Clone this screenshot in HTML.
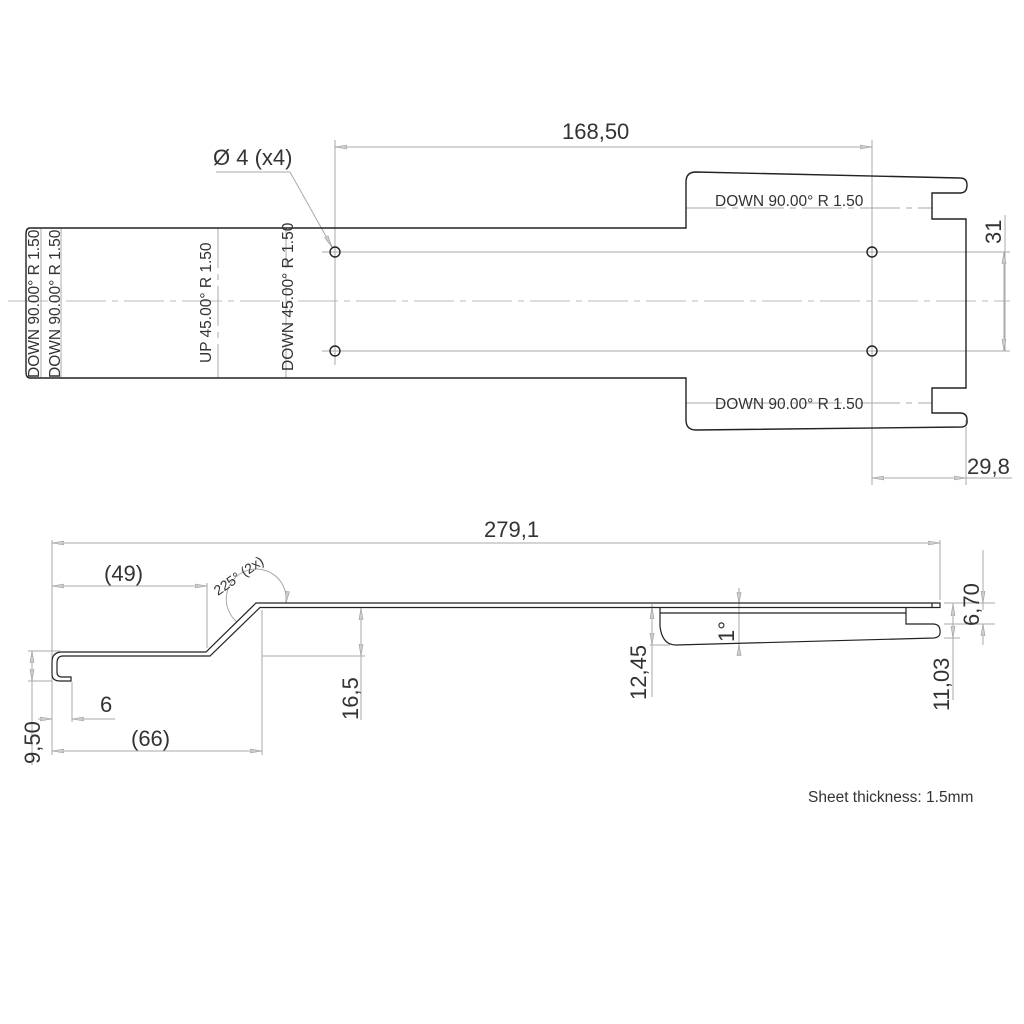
<!DOCTYPE html>
<html><head><style>
html,body{margin:0;padding:0;background:#fff;}
svg{display:block;}
text{font-family:"Liberation Sans",sans-serif;fill:#333;}
</style></head><body>
<svg width="1024" height="1024" viewBox="0 0 1024 1024" xmlns="http://www.w3.org/2000/svg">
<defs>
<marker id="a" markerWidth="12" markerHeight="6" refX="12" refY="3" orient="auto" markerUnits="userSpaceOnUse">
<path d="M0,1 L12,3 L0,5 Z" fill="#ccc" stroke="#999" stroke-width="0.6"/></marker>
</defs>
<g fill="none" stroke="#aaa" stroke-width="1">
<line x1="8" y1="301" x2="1010" y2="301" stroke-dasharray="40,6,6,6" stroke="#bbb"/>
<line x1="41" y1="228" x2="41" y2="378"/>
<line x1="61" y1="228" x2="61" y2="378"/>
<line x1="218" y1="228" x2="218" y2="378" stroke-dasharray="40,6,6,6"/>
<line x1="286" y1="228" x2="286" y2="378" stroke-dasharray="40,6,6,6"/>
<line x1="686" y1="208" x2="932" y2="208" stroke-dasharray="40,6,6,6"/>
<line x1="686" y1="403" x2="932" y2="403" stroke-dasharray="40,6,6,6"/>
<line x1="322" y1="252" x2="1010" y2="252"/>
<line x1="322" y1="351" x2="1010" y2="351"/>
<line x1="335" y1="140" x2="335" y2="365"/>
<line x1="872" y1="140" x2="872" y2="485"/>
<line x1="966" y1="420" x2="966" y2="485"/>
<line x1="600" y1="147" x2="335" y2="147" marker-end="url(#a)"/>
<line x1="600" y1="147" x2="872" y2="147" marker-end="url(#a)"/>
<path d="M216,172 H290 L332,247" marker-end="url(#a)"/>
<line x1="1005" y1="215" x2="1005" y2="351" />
<line x1="1004" y1="300" x2="1004" y2="252" marker-end="url(#a)"/>
<line x1="1004" y1="300" x2="1004" y2="351" marker-end="url(#a)"/>
<line x1="920" y1="478" x2="872" y2="478" marker-end="url(#a)"/>
<line x1="920" y1="478" x2="966" y2="478" marker-end="url(#a)"/>
<line x1="966" y1="478" x2="1012" y2="478"/>
<line x1="52" y1="540" x2="52" y2="755"/>
<line x1="940" y1="540" x2="940" y2="600"/>
<line x1="500" y1="543" x2="52" y2="543" marker-end="url(#a)"/>
<line x1="500" y1="543" x2="940" y2="543" marker-end="url(#a)"/>
<line x1="207" y1="583" x2="207" y2="648"/>
<line x1="130" y1="586" x2="52" y2="586" marker-end="url(#a)"/>
<line x1="130" y1="586" x2="207" y2="586" marker-end="url(#a)"/>
<line x1="262" y1="610" x2="262" y2="755"/>
<line x1="157" y1="751" x2="52" y2="751" marker-end="url(#a)"/>
<line x1="157" y1="751" x2="262" y2="751" marker-end="url(#a)"/>
<line x1="72" y1="682" x2="72" y2="722"/>
<line x1="38" y1="719" x2="52" y2="719" marker-end="url(#a)"/>
<line x1="115" y1="719" x2="72" y2="719" marker-end="url(#a)"/>
<line x1="28" y1="651" x2="60" y2="651"/>
<line x1="28" y1="681" x2="52" y2="681"/>
<line x1="32" y1="651" x2="32" y2="765"/>
<line x1="32" y1="666" x2="32" y2="651" marker-end="url(#a)"/>
<line x1="32" y1="666" x2="32" y2="681" marker-end="url(#a)"/>
<line x1="262" y1="656" x2="365" y2="656"/>
<line x1="361" y1="720" x2="361" y2="656"/>
<line x1="361" y1="630" x2="361" y2="608" marker-end="url(#a)"/>
<line x1="361" y1="630" x2="361" y2="656" marker-end="url(#a)"/>
<path d="M237,622 A30,30 0 1 1 286,603" marker-end="url(#a)"/>
<line x1="650" y1="645" x2="670" y2="645"/>
<line x1="652" y1="697" x2="652" y2="604"/>
<line x1="652" y1="625" x2="652" y2="607" marker-end="url(#a)"/>
<line x1="652" y1="625" x2="652" y2="645" marker-end="url(#a)"/>
<line x1="739" y1="588" x2="739" y2="656"/>
<line x1="739" y1="590" x2="739" y2="604" marker-end="url(#a)"/>
<line x1="739" y1="656" x2="739" y2="644" marker-end="url(#a)"/>
<line x1="944" y1="603" x2="995" y2="603"/>
<line x1="944" y1="624" x2="995" y2="624"/>
<line x1="944" y1="638" x2="960" y2="638"/>
<line x1="953" y1="700" x2="953" y2="603"/>
<line x1="953" y1="620" x2="953" y2="604" marker-end="url(#a)"/>
<line x1="953" y1="620" x2="953" y2="638" marker-end="url(#a)"/>
<line x1="983" y1="550" x2="983" y2="610"/>
<line x1="983" y1="590" x2="983" y2="603" marker-end="url(#a)"/>
<line x1="983" y1="645" x2="983" y2="624" marker-end="url(#a)"/>
</g>
<g fill="none" stroke="#222" stroke-width="1.4">
<path d="M686,228 H30 Q26,228 26,234 V372 Q26,378 30,378 H686 V420 Q686,430 696,430 L962,427 Q968,426 967,420 Q967,413 960,413 H932 V388 H966 V219 H932 V193 H960 Q967,193 967,185 Q967,178 960,178 L696,172 Q686,172 686,182 Z"/>
<circle cx="335" cy="252" r="5"/><circle cx="335" cy="351" r="5"/>
<circle cx="872" cy="252" r="5"/><circle cx="872" cy="351" r="5"/>
</g>
<g fill="none" stroke="#222" stroke-width="1.2">
<path d="M940,603 H256 L206,652 H62 Q52,652 52,662 V674 Q52,681 60,681 H71 V677 H62 Q57,677 57,672 V663 Q57,656 63,656 H210 L260,607.5 H940 Z"/>
<line x1="932" y1="603" x2="932" y2="607"/>
<path d="M660,607 V626 Q662,645 676,645 L934,638 Q941,637 940,631 Q940,624 933,624 H906 V607"/>
<line x1="660" y1="613" x2="906" y2="613"/>
</g>
<g font-size="22">
<text x="562" y="139">168,50</text>
<text x="213" y="165">Ø 4 (x4)</text>
<text x="967" y="474">29,8</text>
<text x="484" y="537">279,1</text>
<text x="104" y="581">(49)</text>
<text x="131" y="746">(66)</text>
<text x="100" y="712">6</text>
<text transform="translate(1001,244) rotate(-90)">31</text>
<text transform="translate(40,764) rotate(-90)">9,50</text>
<text transform="translate(358,720) rotate(-90)">16,5</text>
<text transform="translate(646,700) rotate(-90)">12,45</text>
<text transform="translate(949,711) rotate(-90)">11,03</text>
<text transform="translate(979,626) rotate(-90)">6,70</text>
<text transform="translate(734,642) rotate(-90)">1°</text>
</g>
<g font-size="15.5">
<text x="715" y="206">DOWN  90.00°  R 1.50</text>
<text x="715" y="409">DOWN  90.00°  R 1.50</text>
<text transform="translate(39,378) rotate(-90)">DOWN  90.00°  R 1.50</text>
<text transform="translate(60,378) rotate(-90)">DOWN  90.00°  R 1.50</text>
<text transform="translate(211,363) rotate(-90)">UP  45.00°  R 1.50</text>
<text transform="translate(293,371) rotate(-90)">DOWN  45.00°  R 1.50</text>
<text transform="translate(218,596) rotate(-35)" fill="#666" font-size="14">225° (2x)</text>
<text x="808" y="802">Sheet thickness: 1.5mm</text>
</g>
</svg>
</body></html>
